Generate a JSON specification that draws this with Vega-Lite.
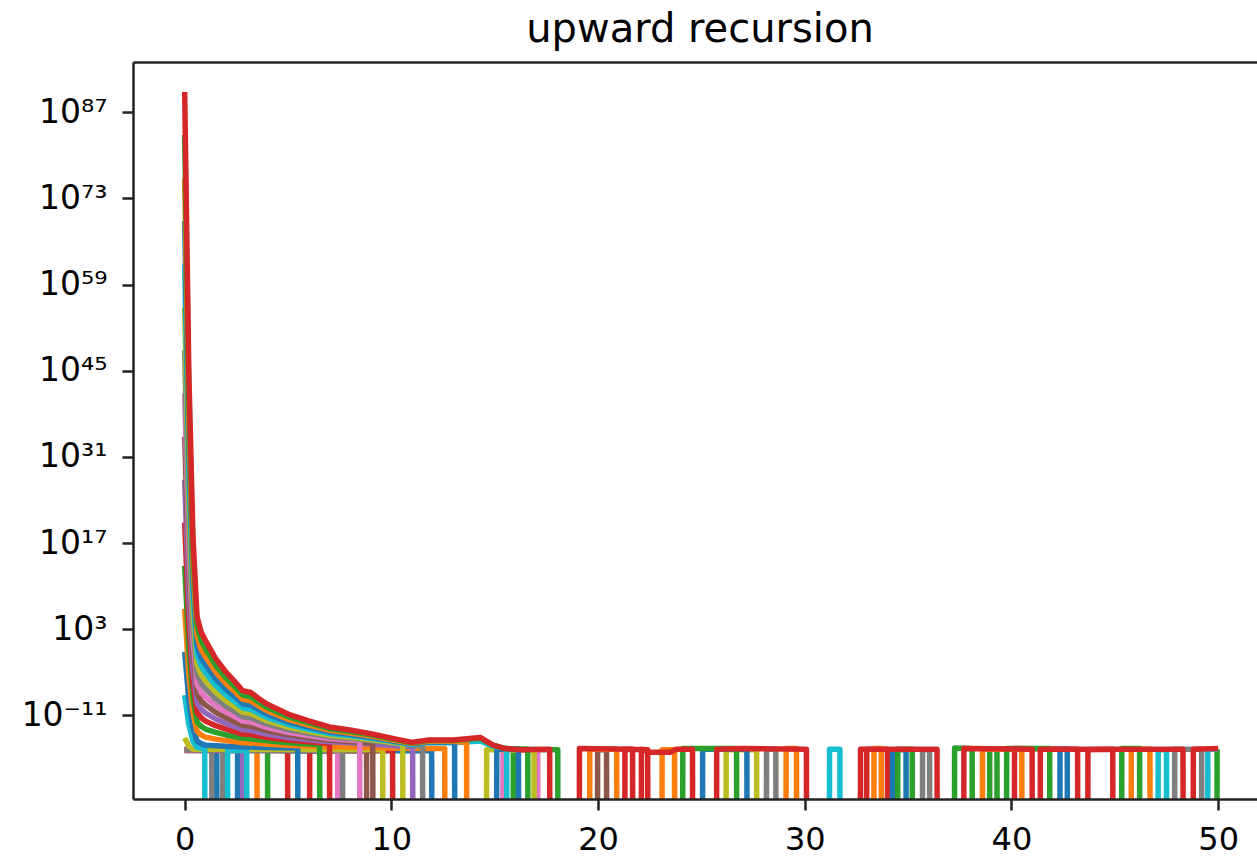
{
"$schema": "https://vega.github.io/schema/vega-lite/v6.json",
"width": 1124, "height": 737,
"autosize": {"type": "none"},
"padding": {"left": 133, "top": 62, "right": 0, "bottom": 59},
"background": "white",
"config": {"view": {"stroke": null}, "font": "DejaVu Sans"},
"title": {"text": "upward recursion", "fontSize": 40, "font": "DejaVu Sans", "fontWeight": "normal", "color": "#000", "anchor": "middle", "frame": "group", "baseline": "alphabetic", "offset": 18, "dx": 5, "dy": 38},
"data": {"values": [
{"s":"s00","x":0,"e":-16.6},{"s":"s00","x":0.8,"e":-16.7},{"s":"s00","x":1.55,"e":-16.7},{"s":"s00","x":1.56,"e":-40},{"s":"s00","x":2.55,"e":-40},{"s":"s00","x":2.56,"e":-16.6},{"s":"s00","x":6,"e":-16.8},{"s":"s00","x":11.95,"e":-16.7},{"s":"s00","x":11.96,"e":-40},{"s":"s00","x":50,"e":-40},
{"s":"s01","x":0,"e":-16.5},{"s":"s01","x":3.5,"e":-16.6},{"s":"s01","x":3.51,"e":-40},{"s":"s01","x":50,"e":-40},
{"s":"s02","x":0,"e":-16.7},{"s":"s02","x":4.01,"e":-16.6},{"s":"s02","x":4.02,"e":-40},{"s":"s02","x":15.89,"e":-40},{"s":"s02","x":15.9,"e":-16.5},{"s":"s02","x":18.05,"e":-16.6},{"s":"s02","x":18.06,"e":-40},{"s":"s02","x":49.94,"e":-40},{"s":"s02","x":49.95,"e":-16.5},{"s":"s02","x":50,"e":-16.5},
{"s":"s03","x":0,"e":-16.6},{"s":"s03","x":4.98,"e":-16.7},{"s":"s03","x":4.99,"e":-40},{"s":"s03","x":6.04,"e":-40},{"s":"s03","x":6.05,"e":-16.7},{"s":"s03","x":10.06,"e":-16.7},{"s":"s03","x":10.07,"e":-40},{"s":"s03","x":43.69,"e":-40},{"s":"s03","x":43.7,"e":-16.6},{"s":"s03","x":44.9,"e":-16.5},{"s":"s03","x":44.91,"e":-40},{"s":"s03","x":50,"e":-40},
{"s":"s04","x":0,"e":-16.6},{"s":"s04","x":2.8,"e":-16.7},{"s":"s04","x":2.81,"e":-40},{"s":"s04","x":50,"e":-40},
{"s":"s05","x":0,"e":-16.7},{"s":"s05","x":8.8,"e":-16.7},{"s":"s05","x":8.81,"e":-40},{"s":"s05","x":50,"e":-40},
{"s":"s06","x":0,"e":-16.6},{"s":"s06","x":7.4,"e":-16.6},{"s":"s06","x":7.41,"e":-40},{"s":"s06","x":15.39,"e":-40},{"s":"s06","x":15.4,"e":-16.6},{"s":"s06","x":17.08,"e":-16.6},{"s":"s06","x":17.09,"e":-40},{"s":"s06","x":50,"e":-40},
{"s":"s07","x":0,"e":-16.5},{"s":"s07","x":1.31,"e":-16.6},{"s":"s07","x":1.32,"e":-40},{"s":"s07","x":1.83,"e":-40},{"s":"s07","x":1.84,"e":-16.7},{"s":"s07","x":7.64,"e":-16.7},{"s":"s07","x":7.65,"e":-40},{"s":"s07","x":50,"e":-40},
{"s":"s08","x":0,"e":-14.7},{"s":"s08","x":0.2,"e":-16},{"s":"s08","x":0.4,"e":-16.5},{"s":"s08","x":9.58,"e":-16.6},{"s":"s08","x":9.59,"e":-40},{"s":"s08","x":14.6,"e":-40},{"s":"s08","x":14.61,"e":-16.6},{"s":"s08","x":16.9,"e":-16.6},{"s":"s08","x":16.91,"e":-40},{"s":"s08","x":50,"e":-40},
{"s":"s09","x":0,"e":-7.7},{"s":"s09","x":0.2,"e":-12.5},{"s":"s09","x":0.4,"e":-15.2},{"s":"s09","x":0.6,"e":-16.2},{"s":"s09","x":0.97,"e":-16.5},{"s":"s09","x":0.98,"e":-40},{"s":"s09","x":2.07,"e":-40},{"s":"s09","x":2.08,"e":-16.7},{"s":"s09","x":3,"e":-16.7},{"s":"s09","x":3.01,"e":-40},{"s":"s09","x":49.49,"e":-40},{"s":"s09","x":49.5,"e":-16.5},{"s":"s09","x":50,"e":-16.5},
{"s":"s10","x":0,"e":-0.7},{"s":"s10","x":0.2,"e":-8.4},{"s":"s10","x":0.4,"e":-13},{"s":"s10","x":0.6,"e":-15.2},{"s":"s10","x":0.8,"e":-15.6},{"s":"s10","x":1,"e":-15.85},{"s":"s10","x":1.5,"e":-15.96},{"s":"s10","x":2,"e":-16.04},{"s":"s10","x":2.5,"e":-16.1},{"s":"s10","x":3.2,"e":-16.16},{"s":"s10","x":4,"e":-16.23},{"s":"s10","x":5,"e":-16.29},{"s":"s10","x":5.47,"e":-16.3},{"s":"s10","x":5.48,"e":-40},{"s":"s10","x":15.09,"e":-40},{"s":"s10","x":15.1,"e":-16.5},{"s":"s10","x":16.15,"e":-16.5},{"s":"s10","x":16.16,"e":-40},{"s":"s10","x":50,"e":-40},
{"s":"s11","x":0,"e":6.3},{"s":"s11","x":0.2,"e":-4.3},{"s":"s11","x":0.4,"e":-10.6},{"s":"s11","x":0.6,"e":-13.6},{"s":"s11","x":0.8,"e":-14.2},{"s":"s11","x":1,"e":-14.54},{"s":"s11","x":1.5,"e":-14.87},{"s":"s11","x":2,"e":-15.11},{"s":"s11","x":2.5,"e":-15.31},{"s":"s11","x":2.8,"e":-15.45},{"s":"s11","x":3.2,"e":-15.48},{"s":"s11","x":3.6,"e":-15.59},{"s":"s11","x":4,"e":-15.69},{"s":"s11","x":5,"e":-15.87},{"s":"s11","x":6,"e":-15.99},{"s":"s11","x":7,"e":-16.1},{"s":"s11","x":8,"e":-16.16},{"s":"s11","x":9,"e":-16.22},{"s":"s11","x":10,"e":-16.3},{"s":"s11","x":11,"e":-16.38},{"s":"s11","x":12.58,"e":-16.4},{"s":"s11","x":12.59,"e":-40},{"s":"s11","x":23.09,"e":-40},{"s":"s11","x":23.1,"e":-16.6},{"s":"s11","x":23.7,"e":-16.6},{"s":"s11","x":23.71,"e":-40},{"s":"s11","x":45.79,"e":-40},{"s":"s11","x":45.8,"e":-16.5},{"s":"s11","x":46.7,"e":-16.5},{"s":"s11","x":46.71,"e":-40},{"s":"s11","x":50,"e":-40},
{"s":"s12","x":0,"e":13.3},{"s":"s12","x":0.2,"e":-0.2},{"s":"s12","x":0.4,"e":-8.2},{"s":"s12","x":0.6,"e":-12.1},{"s":"s12","x":0.8,"e":-12.8},{"s":"s12","x":1,"e":-13.23},{"s":"s12","x":1.5,"e":-13.78},{"s":"s12","x":2,"e":-14.19},{"s":"s12","x":2.5,"e":-14.52},{"s":"s12","x":2.8,"e":-14.74},{"s":"s12","x":3.2,"e":-14.8},{"s":"s12","x":3.6,"e":-14.98},{"s":"s12","x":4,"e":-15.15},{"s":"s12","x":5,"e":-15.45},{"s":"s12","x":6,"e":-15.65},{"s":"s12","x":6.53,"e":-15.75},{"s":"s12","x":6.54,"e":-40},{"s":"s12","x":38.94,"e":-40},{"s":"s12","x":38.95,"e":-16.5},{"s":"s12","x":39.3,"e":-16.5},{"s":"s12","x":39.31,"e":-40},{"s":"s12","x":50,"e":-40},
{"s":"s13","x":0,"e":20.3},{"s":"s13","x":0.2,"e":3.9},{"s":"s13","x":0.4,"e":-5.8},{"s":"s13","x":0.6,"e":-10.5},{"s":"s13","x":0.8,"e":-11.4},{"s":"s13","x":1,"e":-11.92},{"s":"s13","x":1.5,"e":-12.69},{"s":"s13","x":2,"e":-13.26},{"s":"s13","x":2.5,"e":-13.73},{"s":"s13","x":2.8,"e":-14.04},{"s":"s13","x":3.2,"e":-14.12},{"s":"s13","x":3.6,"e":-14.38},{"s":"s13","x":4,"e":-14.61},{"s":"s13","x":5,"e":-15.02},{"s":"s13","x":6,"e":-15.31},{"s":"s13","x":7.01,"e":-15.57},{"s":"s13","x":7.02,"e":-40},{"s":"s13","x":21.29,"e":-40},{"s":"s13","x":21.3,"e":-16.5},{"s":"s13","x":22.4,"e":-16.6},{"s":"s13","x":22.41,"e":-40},{"s":"s13","x":32.99,"e":-40},{"s":"s13","x":33,"e":-16.5},{"s":"s13","x":34,"e":-16.5},{"s":"s13","x":34.01,"e":-40},{"s":"s13","x":40.14,"e":-40},{"s":"s13","x":40.15,"e":-16.4},{"s":"s13","x":43.2,"e":-16.5},{"s":"s13","x":43.21,"e":-40},{"s":"s13","x":50,"e":-40},
{"s":"s14","x":0,"e":27.3},{"s":"s14","x":0.2,"e":8},{"s":"s14","x":0.4,"e":-3.4},{"s":"s14","x":0.6,"e":-9},{"s":"s14","x":0.8,"e":-10},{"s":"s14","x":1,"e":-10.61},{"s":"s14","x":1.5,"e":-11.6},{"s":"s14","x":2,"e":-12.34},{"s":"s14","x":2.5,"e":-12.94},{"s":"s14","x":2.8,"e":-13.34},{"s":"s14","x":3.2,"e":-13.44},{"s":"s14","x":3.6,"e":-13.77},{"s":"s14","x":4,"e":-14.07},{"s":"s14","x":5,"e":-14.6},{"s":"s14","x":6,"e":-14.97},{"s":"s14","x":7,"e":-15.3},{"s":"s14","x":8,"e":-15.47},{"s":"s14","x":9,"e":-15.67},{"s":"s14","x":10,"e":-15.9},{"s":"s14","x":11.03,"e":-16.13},{"s":"s14","x":11.04,"e":-40},{"s":"s14","x":50,"e":-40},
{"s":"s15","x":0,"e":34.3},{"s":"s15","x":0.2,"e":12.1},{"s":"s15","x":0.4,"e":-1},{"s":"s15","x":0.6,"e":-7.4},{"s":"s15","x":0.8,"e":-8.7},{"s":"s15","x":1,"e":-9.3},{"s":"s15","x":1.5,"e":-10.52},{"s":"s15","x":2,"e":-11.41},{"s":"s15","x":2.5,"e":-12.15},{"s":"s15","x":2.8,"e":-12.63},{"s":"s15","x":3.2,"e":-12.76},{"s":"s15","x":3.6,"e":-13.16},{"s":"s15","x":4,"e":-13.53},{"s":"s15","x":5,"e":-14.18},{"s":"s15","x":6,"e":-14.63},{"s":"s15","x":7,"e":-15.03},{"s":"s15","x":8,"e":-15.24},{"s":"s15","x":9.1,"e":-15.5},{"s":"s15","x":9.11,"e":-40},{"s":"s15","x":19.97,"e":-40},{"s":"s15","x":19.98,"e":-16.6},{"s":"s15","x":20.41,"e":-16.6},{"s":"s15","x":20.42,"e":-40},{"s":"s15","x":50,"e":-40},
{"s":"s16","x":0,"e":41.3},{"s":"s16","x":0.2,"e":16.2},{"s":"s16","x":0.4,"e":1.4},{"s":"s16","x":0.6,"e":-5.9},{"s":"s16","x":0.8,"e":-7.3},{"s":"s16","x":1,"e":-7.99},{"s":"s16","x":1.5,"e":-9.43},{"s":"s16","x":2,"e":-10.49},{"s":"s16","x":2.5,"e":-11.35},{"s":"s16","x":2.8,"e":-11.93},{"s":"s16","x":3.2,"e":-12.07},{"s":"s16","x":3.6,"e":-12.56},{"s":"s16","x":4,"e":-12.99},{"s":"s16","x":5,"e":-13.76},{"s":"s16","x":6,"e":-14.29},{"s":"s16","x":7,"e":-14.77},{"s":"s16","x":8,"e":-15.01},{"s":"s16","x":8.47,"e":-15.1},{"s":"s16","x":8.48,"e":-40},{"s":"s16","x":50,"e":-40},
{"s":"s17","x":0,"e":48.3},{"s":"s17","x":0.2,"e":20.3},{"s":"s17","x":0.4,"e":3.8},{"s":"s17","x":0.6,"e":-4.3},{"s":"s17","x":0.8,"e":-5.8},{"s":"s17","x":1,"e":-6.66},{"s":"s17","x":1.5,"e":-8.33},{"s":"s17","x":2,"e":-9.55},{"s":"s17","x":2.5,"e":-10.55},{"s":"s17","x":2.8,"e":-11.22},{"s":"s17","x":3.2,"e":-11.38},{"s":"s17","x":3.6,"e":-11.94},{"s":"s17","x":4,"e":-12.44},{"s":"s17","x":5,"e":-13.33},{"s":"s17","x":6,"e":-13.94},{"s":"s17","x":7,"e":-14.5},{"s":"s17","x":8,"e":-14.78},{"s":"s17","x":9,"e":-15.11},{"s":"s17","x":10,"e":-15.5},{"s":"s17","x":11,"e":-15.89},{"s":"s17","x":11.51,"e":-15.9},{"s":"s17","x":11.52,"e":-40},{"s":"s17","x":28.14,"e":-40},{"s":"s17","x":28.15,"e":-16.5},{"s":"s17","x":28.6,"e":-16.5},{"s":"s17","x":28.61,"e":-40},{"s":"s17","x":35.69,"e":-40},{"s":"s17","x":35.7,"e":-16.6},{"s":"s17","x":36.04,"e":-16.6},{"s":"s17","x":36.05,"e":-40},{"s":"s17","x":47.89,"e":-40},{"s":"s17","x":47.9,"e":-16.5},{"s":"s17","x":49.2,"e":-16.5},{"s":"s17","x":49.21,"e":-40},{"s":"s17","x":50,"e":-40},
{"s":"s18","x":0,"e":55.3},{"s":"s18","x":0.2,"e":24.4},{"s":"s18","x":0.4,"e":6.2},{"s":"s18","x":0.6,"e":-2.7},{"s":"s18","x":0.8,"e":-4.4},{"s":"s18","x":1,"e":-5.35},{"s":"s18","x":1.5,"e":-7.24},{"s":"s18","x":2,"e":-8.62},{"s":"s18","x":2.5,"e":-9.76},{"s":"s18","x":2.8,"e":-10.51},{"s":"s18","x":3.2,"e":-10.7},{"s":"s18","x":3.6,"e":-11.33},{"s":"s18","x":4,"e":-11.9},{"s":"s18","x":5,"e":-12.91},{"s":"s18","x":6,"e":-13.6},{"s":"s18","x":7,"e":-14.23},{"s":"s18","x":8,"e":-14.55},{"s":"s18","x":9,"e":-14.92},{"s":"s18","x":10,"e":-15.37},{"s":"s18","x":10.55,"e":-15.6},{"s":"s18","x":10.56,"e":-40},{"s":"s18","x":26.19,"e":-40},{"s":"s18","x":26.2,"e":-16.6},{"s":"s18","x":27.67,"e":-16.6},{"s":"s18","x":27.68,"e":-40},{"s":"s18","x":50,"e":-40},
{"s":"s19","x":0,"e":62.3},{"s":"s19","x":0.2,"e":28.5},{"s":"s19","x":0.4,"e":8.6},{"s":"s19","x":0.6,"e":-1.2},{"s":"s19","x":0.8,"e":-3},{"s":"s19","x":1,"e":-4.04},{"s":"s19","x":1.5,"e":-6.15},{"s":"s19","x":2,"e":-7.7},{"s":"s19","x":2.5,"e":-8.97},{"s":"s19","x":2.8,"e":-9.81},{"s":"s19","x":3.2,"e":-10.02},{"s":"s19","x":3.6,"e":-10.73},{"s":"s19","x":4,"e":-11.36},{"s":"s19","x":5,"e":-12.49},{"s":"s19","x":6,"e":-13.26},{"s":"s19","x":7,"e":-13.97},{"s":"s19","x":8,"e":-14.32},{"s":"s19","x":9,"e":-14.74},{"s":"s19","x":10,"e":-15.23},{"s":"s19","x":11,"e":-15.73},{"s":"s19","x":11.8,"e":-15.44},{"s":"s19","x":13,"e":-15.44},{"s":"s19","x":14.3,"e":-15.16},{"s":"s19","x":14.9,"e":-16.01},{"s":"s19","x":15.58,"e":-16.4},{"s":"s19","x":15.59,"e":-40},{"s":"s19","x":31.19,"e":-40},{"s":"s19","x":31.2,"e":-16.5},{"s":"s19","x":31.7,"e":-16.5},{"s":"s19","x":31.71,"e":-40},{"s":"s19","x":47.09,"e":-40},{"s":"s19","x":47.1,"e":-16.6},{"s":"s19","x":47.5,"e":-16.6},{"s":"s19","x":47.51,"e":-40},{"s":"s19","x":50,"e":-40},
{"s":"s20","x":0,"e":69.3},{"s":"s20","x":0.2,"e":32.6},{"s":"s20","x":0.4,"e":11},{"s":"s20","x":0.6,"e":0.4},{"s":"s20","x":0.8,"e":-1.7},{"s":"s20","x":1,"e":-2.73},{"s":"s20","x":1.5,"e":-5.06},{"s":"s20","x":2,"e":-6.77},{"s":"s20","x":2.5,"e":-8.18},{"s":"s20","x":2.8,"e":-9.11},{"s":"s20","x":3.2,"e":-9.34},{"s":"s20","x":3.6,"e":-10.12},{"s":"s20","x":4,"e":-10.82},{"s":"s20","x":5,"e":-12.07},{"s":"s20","x":6,"e":-12.92},{"s":"s20","x":7,"e":-13.7},{"s":"s20","x":8,"e":-14.09},{"s":"s20","x":9,"e":-14.55},{"s":"s20","x":10,"e":-15.1},{"s":"s20","x":11,"e":-15.64},{"s":"s20","x":11.8,"e":-15.33},{"s":"s20","x":13.06,"e":-15.35},{"s":"s20","x":13.07,"e":-40},{"s":"s20","x":25.05,"e":-40},{"s":"s20","x":25.06,"e":-16.5},{"s":"s20","x":27.2,"e":-16.5},{"s":"s20","x":27.21,"e":-40},{"s":"s20","x":34.24,"e":-40},{"s":"s20","x":34.25,"e":-16.6},{"s":"s20","x":34.9,"e":-16.6},{"s":"s20","x":34.91,"e":-40},{"s":"s20","x":42.34,"e":-40},{"s":"s20","x":42.35,"e":-16.5},{"s":"s20","x":42.7,"e":-16.5},{"s":"s20","x":42.71,"e":-40},{"s":"s20","x":50,"e":-40},
{"s":"s21","x":0,"e":76.3},{"s":"s21","x":0.2,"e":36.7},{"s":"s21","x":0.4,"e":13.4},{"s":"s21","x":0.6,"e":1.9},{"s":"s21","x":0.8,"e":-0.3},{"s":"s21","x":1,"e":-1.42},{"s":"s21","x":1.5,"e":-3.98},{"s":"s21","x":2,"e":-5.85},{"s":"s21","x":2.5,"e":-7.38},{"s":"s21","x":2.8,"e":-8.41},{"s":"s21","x":3.2,"e":-8.66},{"s":"s21","x":3.6,"e":-9.51},{"s":"s21","x":4,"e":-10.28},{"s":"s21","x":5,"e":-11.64},{"s":"s21","x":6,"e":-12.58},{"s":"s21","x":7,"e":-13.43},{"s":"s21","x":8,"e":-13.86},{"s":"s21","x":9,"e":-14.37},{"s":"s21","x":10,"e":-14.97},{"s":"s21","x":11,"e":-15.56},{"s":"s21","x":11.8,"e":-15.22},{"s":"s21","x":13,"e":-15.22},{"s":"s21","x":13.64,"e":-15.4},{"s":"s21","x":13.65,"e":-40},{"s":"s21","x":19.59,"e":-40},{"s":"s21","x":19.6,"e":-16.5},{"s":"s21","x":20.9,"e":-16.5},{"s":"s21","x":20.91,"e":-40},{"s":"s21","x":29.09,"e":-40},{"s":"s21","x":29.1,"e":-16.4},{"s":"s21","x":29.6,"e":-16.4},{"s":"s21","x":29.61,"e":-40},{"s":"s21","x":33.34,"e":-40},{"s":"s21","x":33.35,"e":-16.4},{"s":"s21","x":33.7,"e":-16.4},{"s":"s21","x":33.71,"e":-40},{"s":"s21","x":38.59,"e":-40},{"s":"s21","x":38.6,"e":-16.5},{"s":"s21","x":40.5,"e":-16.5},{"s":"s21","x":40.51,"e":-40},{"s":"s21","x":50,"e":-40},
{"s":"s22","x":0,"e":83.3},{"s":"s22","x":0.2,"e":40.8},{"s":"s22","x":0.4,"e":15.7},{"s":"s22","x":0.6,"e":3.5},{"s":"s22","x":0.8,"e":1.1},{"s":"s22","x":1,"e":-0.11},{"s":"s22","x":1.5,"e":-2.89},{"s":"s22","x":2,"e":-4.92},{"s":"s22","x":2.5,"e":-6.59},{"s":"s22","x":2.8,"e":-7.7},{"s":"s22","x":3.2,"e":-7.98},{"s":"s22","x":3.6,"e":-8.91},{"s":"s22","x":4,"e":-9.74},{"s":"s22","x":5,"e":-11.22},{"s":"s22","x":6,"e":-12.24},{"s":"s22","x":7,"e":-13.17},{"s":"s22","x":8,"e":-13.63},{"s":"s22","x":9,"e":-14.18},{"s":"s22","x":10,"e":-14.83},{"s":"s22","x":11,"e":-15.48},{"s":"s22","x":11.8,"e":-15.11},{"s":"s22","x":13,"e":-15.11},{"s":"s22","x":14.3,"e":-14.74},{"s":"s22","x":14.9,"e":-15.85},{"s":"s22","x":15.5,"e":-16.41},{"s":"s22","x":16.6,"e":-16.5},{"s":"s22","x":16.61,"e":-40},{"s":"s22","x":24.09,"e":-40},{"s":"s22","x":24.1,"e":-16.4},{"s":"s22","x":26.7,"e":-16.4},{"s":"s22","x":26.71,"e":-40},{"s":"s22","x":34.49,"e":-40},{"s":"s22","x":34.5,"e":-16.5},{"s":"s22","x":35.2,"e":-16.5},{"s":"s22","x":35.21,"e":-40},{"s":"s22","x":37.24,"e":-40},{"s":"s22","x":37.25,"e":-16.3},{"s":"s22","x":38.1,"e":-16.4},{"s":"s22","x":38.11,"e":-40},{"s":"s22","x":39.76,"e":-40},{"s":"s22","x":39.77,"e":-16.4},{"s":"s22","x":41.85,"e":-16.4},{"s":"s22","x":41.86,"e":-40},{"s":"s22","x":45.33,"e":-40},{"s":"s22","x":45.34,"e":-16.4},{"s":"s22","x":46.2,"e":-16.4},{"s":"s22","x":46.21,"e":-40},{"s":"s22","x":50,"e":-40},
{"s":"s23","x":0,"e":90.3},{"s":"s23","x":0.2,"e":44.9},{"s":"s23","x":0.4,"e":18.1},{"s":"s23","x":0.6,"e":5},{"s":"s23","x":0.8,"e":2.5},{"s":"s23","x":1,"e":1.2},{"s":"s23","x":1.5,"e":-1.8},{"s":"s23","x":2,"e":-4},{"s":"s23","x":2.5,"e":-5.8},{"s":"s23","x":2.8,"e":-7},{"s":"s23","x":3.2,"e":-7.3},{"s":"s23","x":3.6,"e":-8.3},{"s":"s23","x":4,"e":-9.2},{"s":"s23","x":5,"e":-10.8},{"s":"s23","x":6,"e":-11.9},{"s":"s23","x":7,"e":-12.9},{"s":"s23","x":8,"e":-13.4},{"s":"s23","x":9,"e":-14},{"s":"s23","x":10,"e":-14.7},{"s":"s23","x":11,"e":-15.4},{"s":"s23","x":11.8,"e":-15},{"s":"s23","x":13,"e":-15},{"s":"s23","x":14.3,"e":-14.6},{"s":"s23","x":14.9,"e":-15.8},{"s":"s23","x":15.5,"e":-16.4},{"s":"s23","x":16.3,"e":-16.6},{"s":"s23","x":17.66,"e":-16.5},{"s":"s23","x":17.67,"e":-40},{"s":"s23","x":19.09,"e":-40},{"s":"s23","x":19.1,"e":-16.4},{"s":"s23","x":21.67,"e":-16.5},{"s":"s23","x":21.68,"e":-40},{"s":"s23","x":22.09,"e":-40},{"s":"s23","x":22.1,"e":-16.5},{"s":"s23","x":22.5,"e":-17},{"s":"s23","x":23.5,"e":-17},{"s":"s23","x":23.8,"e":-16.5},{"s":"s23","x":24.57,"e":-16.5},{"s":"s23","x":24.58,"e":-40},{"s":"s23","x":25.73,"e":-40},{"s":"s23","x":25.74,"e":-16.5},{"s":"s23","x":27,"e":-16.4},{"s":"s23","x":30.08,"e":-16.5},{"s":"s23","x":30.09,"e":-40},{"s":"s23","x":32.69,"e":-40},{"s":"s23","x":32.7,"e":-16.5},{"s":"s23","x":36.4,"e":-16.5},{"s":"s23","x":36.41,"e":-40},{"s":"s23","x":37.69,"e":-40},{"s":"s23","x":37.7,"e":-16.4},{"s":"s23","x":41,"e":-16.5},{"s":"s23","x":41.01,"e":-40},{"s":"s23","x":41.39,"e":-40},{"s":"s23","x":41.4,"e":-16.5},{"s":"s23","x":48.3,"e":-16.5},{"s":"s23","x":48.31,"e":-40},{"s":"s23","x":48.79,"e":-40},{"s":"s23","x":48.8,"e":-16.5},{"s":"s23","x":50,"e":-16.4}
]},
"layer": [
{"mark": {"type": "line", "strokeWidth": 5.5, "clip": true, "strokeJoin": "round"},
 "encoding": {
  "x": {"field": "x", "type": "quantitative", "scale": {"domain": [-2.5, 51.88], "nice": false, "zero": false},
        "axis": {"orient": "bottom", "values": [0, 10, 20, 30, 40, 50], "title": null, "grid": false, "zindex": 1,
                 "domainColor": "#222", "domainWidth": 2.5, "tickColor": "#222", "tickWidth": 2.5, "tickSize": 11,
                 "labelFont": "DejaVu Sans", "labelFontSize": 32, "labelColor": "#000", "labelPadding": 14,
                 "labelFlush": false, "labelOverlap": false}},
  "y": {"field": "e", "type": "quantitative", "scale": {"domain": [-24.6, 95.17], "nice": false, "zero": false},
        "axis": {"values": [87, 73, 59, 45, 31, 17, 3, -11], "title": null, "grid": false, "zindex": 1,
                 "labelExpr": "datum.value == 87 ? '10⁸⁷' : datum.value == 73 ? '10⁷³' : datum.value == 59 ? '10⁵⁹' : datum.value == 45 ? '10⁴⁵' : datum.value == 31 ? '10³¹' : datum.value == 17 ? '10¹⁷' : datum.value == 3 ? '10³' : '10⁻¹¹'",
                 "domainColor": "#222", "domainWidth": 2.5, "tickColor": "#222", "tickWidth": 2.5, "tickSize": 11,
                 "labelFont": "DejaVu Sans", "labelFontSize": 33, "labelColor": "#000", "labelPadding": 15, "labelDy": 9,
                 "labelFlush": false, "labelOverlap": false}},
  "color": {"field": "s", "type": "nominal", "legend": null,
            "scale": {"domain": ["s00","s01","s02","s03","s04","s05","s06","s07","s08","s09","s10","s11","s12","s13","s14","s15","s16","s17","s18","s19","s20","s21","s22","s23"],
                      "range": ["#1f77b4","#ff7f0e","#2ca02c","#d62728","#9467bd","#8c564b","#e377c2","#7f7f7f","#bcbd22","#17becf","#1f77b4","#ff7f0e","#2ca02c","#d62728","#9467bd","#8c564b","#e377c2","#7f7f7f","#bcbd22","#17becf","#1f77b4","#ff7f0e","#2ca02c","#d62728"]}}
 }},
{"mark": {"type": "point", "opacity": 0},
 "encoding": {
  "x": {"field": "x", "type": "quantitative",
        "axis": {"orient": "top", "labels": false, "ticks": false, "grid": false, "title": null, "zindex": 1, "domainColor": "#222", "domainWidth": 2.5}},
  "y": {"field": "e", "type": "quantitative", "axis": null}
 }}
],
"resolve": {"axis": {"x": "independent", "y": "independent"}}
}
